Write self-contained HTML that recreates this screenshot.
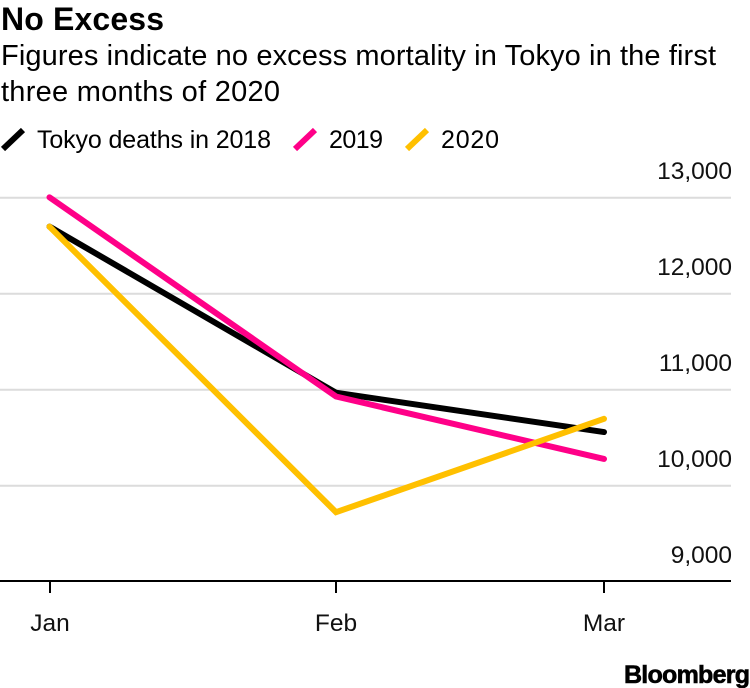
<!DOCTYPE html>
<html>
<head>
<meta charset="utf-8">
<style>
html,body{margin:0;padding:0;background:#fff;width:750px;height:688px;overflow:hidden;}
svg{display:block;font-family:"Liberation Sans",sans-serif;}
</style>
</head>
<body>
<svg id="chart" width="750" height="688" viewBox="0 0 750 688" xmlns="http://www.w3.org/2000/svg">
<text x="1" y="30" font-size="32" font-weight="700" fill="#000" textLength="163" lengthAdjust="spacing">No Excess</text>
<text x="1" y="65" font-size="29" fill="#000" textLength="715" lengthAdjust="spacing">Figures indicate no excess mortality in Tokyo in the first</text>
<text x="1" y="101" font-size="29" fill="#000" textLength="279" lengthAdjust="spacing">three months of 2020</text>
<g id="legend"></g>
<g id="grid"></g>
<g id="yaxis"></g>
<g id="xaxis"></g>
<g id="series"></g>
<text x="624" y="683" font-size="25" font-weight="700" fill="#000" stroke="#000" stroke-width="0.6" textLength="126" lengthAdjust="spacing">Bloomberg</text>
</svg>
<script>
const categories = ['Jan', 'Feb', 'Mar'];
const yTicks = [9000, 10000, 11000, 12000, 13000];
const yTickLabels = ['9,000', '10,000', '11,000', '12,000', '13,000'];
const seriesNames = ['Tokyo deaths in 2018', '2019', '2020'];
const deaths2018 = [12700, 10969, 10560];
const deaths2019 = [13005, 10930, 10280];
const deaths2020 = [12700, 9725, 10698];
const seriesColors = ['#000000', '#ff0088', '#ffc000'];

const NS = 'http://www.w3.org/2000/svg';
const plotBaseline = 581;
const xPositions = [49.5, 336, 604];
const tickPositions = [50, 336, 604];
function xScale(i) { return xPositions[i]; }
function yScale(v) { return 485.8 + (v - 10000) * (-0.096); }
function make(tag, attrs, parent) {
  const el = document.createElementNS(NS, tag);
  for (const k in attrs) el.setAttribute(k, attrs[k]);
  parent.appendChild(el);
  return el;
}
const grid = document.getElementById('grid');
const yaxis = document.getElementById('yaxis');
const xaxis = document.getElementById('xaxis');
const seriesG = document.getElementById('series');
const legend = document.getElementById('legend');

yTicks.forEach(function (t, i) {
  if (t > 9000) {
    const line = make('line', {x1: 0, x2: 731, y1: yScale(t), y2: yScale(t), stroke: '#dcdcdc', 'stroke-width': 2}, grid);
    
    
  }
  const label = make('text', {x: 732, y: yScale(t) - 19, 'text-anchor': 'end', 'font-size': 24.5, fill: '#111'}, yaxis);
  label.textContent = yTickLabels[i];
  
  
});

const axisLine = make('line', {x1: 0, x2: 731, y1: plotBaseline, y2: plotBaseline, stroke: '#000', 'stroke-width': 2}, xaxis);



categories.forEach(function (c, i) {
  const tick = make('line', {x1: tickPositions[i], x2: tickPositions[i], y1: plotBaseline, y2: plotBaseline + 12, stroke: '#000', 'stroke-width': 2}, xaxis);
  
  
  const label = make('text', {x: tickPositions[i], y: 631, 'text-anchor': 'middle', 'font-size': 24.5, fill: '#111'}, xaxis);
  label.textContent = c;
  
  
});

[deaths2018, deaths2019, deaths2020].forEach(function (vals, s) {
  const pts = vals.map(function (v, i) { return xScale(i) + ',' + yScale(v); }).join(' ');
  const line = make('polyline', {points: pts, fill: 'none', stroke: seriesColors[s], 'stroke-width': 6, 'stroke-linejoin': 'miter', 'stroke-linecap': 'round'}, seriesG);
  
  
});

const legendX = [2, 294, 406];
const legendTextX = [37, 329, 441];
const legendTextWidth = [234, 54, 58];
seriesNames.forEach(function (n, s) {
  const swatch = make('line', {x1: legendX[s] + 1, y1: 149, x2: legendX[s] + 21, y2: 130, stroke: seriesColors[s], 'stroke-width': 6}, legend);
  
  
  const text = make('text', {x: legendTextX[s], y: 148, 'font-size': 25, fill: '#000', textLength: legendTextWidth[s], lengthAdjust: 'spacing'}, legend);
  text.textContent = n;
  
  
});
</script>
</body>
</html>
